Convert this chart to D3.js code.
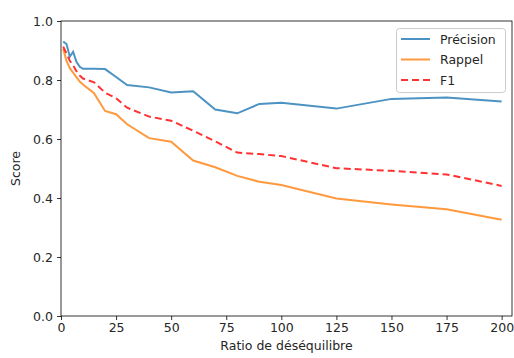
<!DOCTYPE html>
<html><head><meta charset="utf-8">
<script src="https://cdn.jsdelivr.net/npm/d3@7"></script>
<style>body{margin:0;background:#fff}svg{display:block}text{font-family:"DejaVu Sans",sans-serif}</style>
</head><body><svg id="c" width="514" height="358"></svg>
<script>
const ratios    = [1, 2.5, 4, 5.5, 7, 8.5, 10, 15, 20, 25, 30, 40, 50, 60, 70, 80, 90, 100, 125, 150, 175, 200];
const precision = [0.930, 0.922, 0.879, 0.896, 0.862, 0.845, 0.838, 0.838, 0.837, 0.81, 0.783, 0.775, 0.758, 0.762, 0.700, 0.687, 0.719, 0.723, 0.703, 0.736, 0.741, 0.727];
const rappel    = [0.905, 0.865, 0.840, 0.825, 0.810, 0.795, 0.785, 0.755, 0.695, 0.684, 0.650, 0.603, 0.591, 0.527, 0.504, 0.475, 0.455, 0.444, 0.398, 0.378, 0.362, 0.326];
const f1        = [0.913, 0.890, 0.865, 0.850, 0.830, 0.815, 0.805, 0.792, 0.757, 0.738, 0.706, 0.676, 0.662, 0.628, 0.592, 0.554, 0.549, 0.542, 0.501, 0.492, 0.480, 0.441];
const xTicks = [0, 25, 50, 75, 100, 125, 150, 175, 200];
const yTicks = [0, 0.2, 0.4, 0.6, 0.8, 1.0];
const seriesNames = ["Précision", "Rappel", "F1"];

const svg = d3.select("#c");
const L = 61, R = 512, T = 21, B = 316;
const x = d3.scaleLinear().domain([0, 204.7]).range([L, R]);
const y = d3.scaleLinear().domain([0, 1]).range([B, T]);

const series = [
  {name: seriesNames[0], vals: precision, color: "#1f77b4", dash: null},
  {name: seriesNames[1], vals: rappel, color: "#ff7f0e", dash: null},
  {name: seriesNames[2], vals: f1, color: "#ff0000", dash: "7,4"}
];
const line = d3.line().x((d) => x(d[0])).y((d) => y(d[1]));
series.forEach(s => {
  svg.append("path").datum(ratios.map((r, i) => [r, s.vals[i]]))
    .attr("d", line).attr("fill", "none").attr("stroke", s.color)
    .attr("stroke-opacity", 0.8).attr("stroke-width", 2)
    .attr("stroke-dasharray", s.dash);
});

// axes
const xa = svg.append("g").attr("transform", `translate(0,${B})`)
  .call(d3.axisBottom(x).tickValues(xTicks).tickFormat(d3.format("d")).tickSize(4).tickPadding(3));
const ya = svg.append("g").attr("transform", `translate(${L},0)`)
  .call(d3.axisLeft(y).tickValues(yTicks).tickFormat(d3.format(".1f")).tickSize(4).tickPadding(4));
[xa, ya].forEach(a => {
  a.select(".domain").remove();
  a.selectAll("line").attr("stroke", "#000").attr("stroke-width", 0.8);
  a.selectAll("text").attr("font-size", "12.5px").attr("fill", "#262626").attr("font-family", "DejaVu Sans");
});
svg.append("rect").attr("x", L).attr("y", T).attr("width", R - L).attr("height", B - T)
  .attr("fill", "none").attr("stroke", "#000").attr("stroke-width", 0.8);

svg.append("text").attr("x", (L + R) / 2).attr("y", 350).attr("text-anchor", "middle")
  .attr("font-size", "12.5px").attr("fill", "#262626").text("Ratio de déséquilibre");
svg.append("text").attr("transform", `translate(20,${(T + B) / 2}) rotate(-90)`)
  .attr("text-anchor", "middle").attr("font-size", "12.5px").attr("fill", "#262626").text("Score");

// legend
const lg = svg.append("g");
lg.append("rect").attr("x", 396.5).attr("y", 28.5).attr("width", 109).attr("height", 64).attr("rx", 3)
  .attr("fill", "#fff").attr("fill-opacity", 0.8).attr("stroke", "#ccc").attr("stroke-width", 1);
series.forEach((s, i) => {
  const yy = 39 + i * 20.5;
  lg.append("line").attr("x1", 401).attr("x2", 430).attr("y1", yy).attr("y2", yy)
    .attr("stroke", s.color).attr("stroke-opacity", 0.8).attr("stroke-width", 2).attr("stroke-dasharray", s.dash);
  lg.append("text").attr("x", 440).attr("y", yy + 4.5).attr("font-size", "12.5px").attr("fill", "#262626").text(s.name);
});
</script></body></html>
